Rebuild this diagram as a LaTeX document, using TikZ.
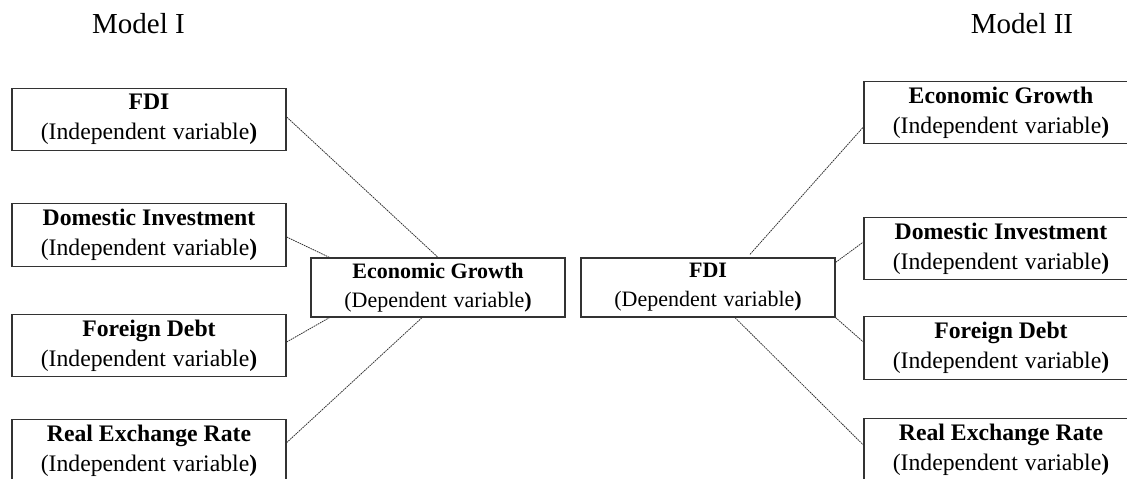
\documentclass[tikz,border=0pt]{standalone}
\usepackage{fontspec}
\setmainfont{Liberation Serif}
\begin{document}
\begin{tikzpicture}[x=1pt,y=-1pt,
  vbox/.style={draw=black!80, line width=1.3pt, fill=white, align=center, inner sep=0pt},
  ibox/.style={vbox, minimum width=274pt, minimum height=62.5pt,
    font=\fontsize{23.7}{30}\selectfont},
  dbox/.style={vbox, minimum width=254pt, minimum height=59pt,
    font=\fontsize{22}{29}\selectfont},
  link/.style={dash pattern=on 1.6pt off 0.8pt, line width=0.8pt, black!80},
  title/.style={font=\fontsize{29}{32}\selectfont, anchor=base, inner sep=0pt}]
\useasboundingbox (0,0) rectangle (1127,479);
\newcommand{\indep}{(Independent\hspace{0.3em}variable\textbf{)}}
\newcommand{\dep}{(Dependent\hspace{0.3em}variable\textbf{)}}
% titles
\node[title] (t1) at (138.5,33) {Model I};
\node[title] (t2) at (1022,33) {Model II};
% Model I
\node[ibox] (lFDI) at (149,119.5) {\textbf{FDI}\\\indep};
\node[ibox] (lDI)  at (149,235) {\textbf{Domestic Investment}\\\indep};
\node[ibox] (lFD)  at (149,345.5) {\textbf{Foreign Debt}\\\indep};
\node[ibox] (lRER) at (149,450.5) {\textbf{Real Exchange Rate}\\\indep};
\node[dbox] (EGd) at (438,287.5) {\textbf{Economic Growth}\\\dep};
% Model II
\node[dbox] (rFDI) at (708,287.5) {\textbf{FDI}\\\dep};
\node[ibox] (rEG)  at (1001,112.5) {\textbf{Economic Growth}\\\indep};
\node[ibox] (rDI)  at (1001,248.5) {\textbf{Domestic Investment}\\\indep};
\node[ibox] (rFD)  at (1001,348) {\textbf{Foreign Debt}\\\indep};
\node[ibox] (rRER) at (1001,450) {\textbf{Real Exchange Rate}\\\indep};
% connectors Model I
\draw[link] ([yshift=2.5pt]lFDI.east) -- (EGd.north);
\draw[link] ([yshift=-2pt]lDI.east) -- ([xshift=19pt]EGd.north west);
\draw[link] ([yshift=3.5pt]lFD.east) -- ([xshift=19pt]EGd.south west);
\draw[link] ([yshift=-24pt]lRER.north east) -- ([xshift=-16pt]EGd.south);
% connectors Model II
\draw[link] ([xshift=42pt,yshift=3pt]rFDI.north) -- ([yshift=-14.5pt]rEG.west);
\draw[link] ([yshift=-5pt]rFDI.north east) -- ([yshift=6.5pt]rDI.west);
\draw[link] (rFDI.south east) -- ([yshift=6pt]rFD.west);
\draw[link] ([xshift=27pt]rFDI.south) -- ([yshift=5pt]rRER.west);
\end{tikzpicture}
\end{document}
